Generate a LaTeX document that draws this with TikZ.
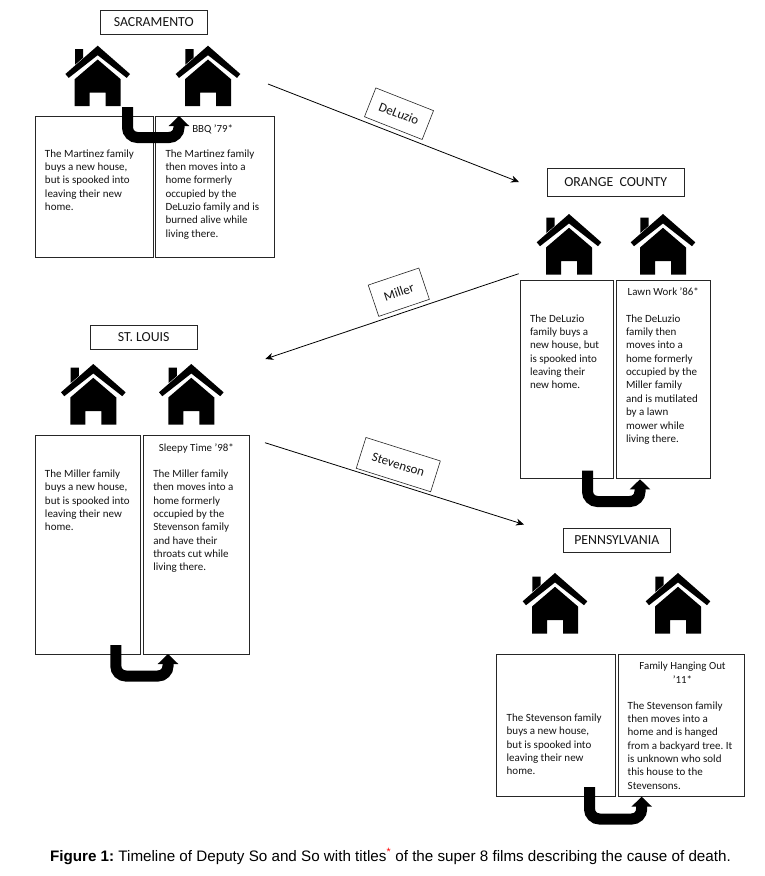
\documentclass[tikz,border=0pt]{standalone}
\usepackage{fontspec}
\setmainfont{Carlito}
\newfontfamily\capfont{Liberation Sans}
\usetikzlibrary{arrows.meta}
\tikzset{
  every node/.style={inner sep=0pt, outer sep=0pt, text=black!92},
  place/.style={draw=black!85, line width=0.9pt, font=\fontsize{13.8}{15}\selectfont, align=center, fill=white},
  panel/.style={draw=black!85, line width=0.9pt, fill=white},
  body/.style={anchor=north west, align=left, font=\fontsize{11}{13.35}\selectfont},
  filmtitle/.style={align=center, font=\fontsize{10.9}{13.35}\selectfont},
  surname/.style={draw=black!85, line width=0.6pt, fill=white, font=\fontsize{13}{14}\selectfont},
  trip/.style={draw=black, line width=0.8pt, -{Stealth[length=8pt,width=7pt]}},
  uarrow/.style={draw=black, line width=11pt, rounded corners=10pt, -{Triangle[length=10pt,width=20pt]}},
  home/.pic={
    \fill[black] (0,0) -- (32.3,28.3) -- (29,32.2) -- (0,9.5) -- (-29,32.2) -- (-32.3,28.3) -- cycle;
    \fill[black] (-22.7,3.5) -- (-14.5,3.5) -- (-14.5,12) -- (-22.7,19) -- cycle;
    \fill[black] (-23,60.5) -- (-23,33.5) -- (0,13.8) -- (23,33.5) -- (23,60.5) -- (8,60.5) -- (8,47) -- (-8,47) -- (-8,60.5) -- cycle;
  }
}
\begin{document}
\frenchspacing
\begin{tikzpicture}[x=1pt,y=-1pt]
\useasboundingbox[fill=white] (0,0) rectangle (764,876);

% Sacramento
\node[place, minimum width=106.7pt, minimum height=24.7pt] (sacLabel) at (153.7,22.3) {SACRAMENTO};
\pic at (97.7,45.7) {home};
\pic at (208,45.7) {home};
\node[panel, minimum width=118pt, minimum height=141pt, anchor=north west] (sacL) at (35.7,116) {};
\node[panel, minimum width=118.3pt, minimum height=141pt, anchor=north west] (sacR) at (155.7,116) {};
\node[body] (sacLT) at (45,149.6) {The Martinez family\\buys a new house,\\but is spooked into\\leaving their new\\home.};
\node[body] (sacRT) at (165.5,149.6) {The Martinez family\\then moves into a\\home formerly\\occupied by the\\DeLuzio family and is\\burned alive while\\living there.};
\node[filmtitle] (sacF) at (212.7,129) {BBQ '79*};
\coordinate (sacA) at (127.5,107);
\coordinate (sacM) at (150,137.5);
\coordinate (sacB) at (179,116);
\draw[uarrow] (sacA) |- (sacM) -| (sacB);

% Orange County
\node[place, minimum width=136.7pt, minimum height=28.4pt] (ocLabel) at (615.7,182.5) {ORANGE\ \ COUNTY};
\pic at (569,214) {home};
\pic at (663,214) {home};
\node[panel, minimum width=93.7pt, minimum height=197.3pt, anchor=north west] (ocL) at (520,280.7) {};
\node[panel, minimum width=94.4pt, minimum height=197.3pt, anchor=north west] (ocR) at (616.3,280.7) {};
\node[body] (ocLT) at (530,314.6) {The DeLuzio\\family buys a\\new house, but\\is spooked into\\leaving their\\new home.};
\node[body] (ocRT) at (626,314.6) {The DeLuzio\\family then\\moves into a\\home formerly\\occupied by the\\Miller family\\and is mutilated\\by a lawn\\mower while\\living there.};
\node[filmtitle] (ocF) at (663.3,292) {Lawn Work '86*};
\coordinate (ocA) at (587.5,470.7);
\coordinate (ocM) at (610,501.5);
\coordinate (ocB) at (640,479.3);
\draw[uarrow] (ocA) |- (ocM) -| (ocB);

% St. Louis
\node[place, minimum width=107.3pt, minimum height=24.3pt] (slLabel) at (143.7,337.2) {ST. LOUIS};
\pic at (93.3,364) {home};
\pic at (191.3,364) {home};
\node[panel, minimum width=105pt, minimum height=218.3pt, anchor=north west] (slL) at (35.3,435.7) {};
\node[panel, minimum width=105.6pt, minimum height=218.3pt, anchor=north west] (slR) at (143.7,435.7) {};
\node[body] (slLT) at (45,469.8) {The Miller family\\buys a new house,\\but is spooked into\\leaving their new\\home.};
\node[body] (slRT) at (153.3,469.8) {The Miller family\\then moves into a\\home formerly\\occupied by the\\Stevenson family\\and have their\\throats cut while\\living there.};
\node[filmtitle] (slF) at (196.3,448.3) {Sleepy Time '98*};
\coordinate (slA) at (115.8,645);
\coordinate (slM) at (140,676);
\coordinate (slB) at (168,654);
\draw[uarrow] (slA) |- (slM) -| (slB);

% Pennsylvania
\node[place, minimum width=107pt, minimum height=24.7pt] (paLabel) at (616.8,540.3) {PENNSYLVANIA};
\pic at (555,573) {home};
\pic at (678,573) {home};
\node[panel, minimum width=118.7pt, minimum height=142.3pt, anchor=north west] (paL) at (496.3,654) {};
\node[panel, minimum width=125.7pt, minimum height=142.3pt, anchor=north west] (paR) at (618.3,654) {};
\node[body] (paLT) at (506.7,713.8) {The Stevenson family\\buys a new house,\\but is spooked into\\leaving their new\\home.};
\node[body] (paRT) at (627.7,701.4) {The Stevenson family\\then moves into a\\home and is hanged\\from a backyard tree. It\\is unknown who sold\\this house to the\\Stevensons.};
\node[filmtitle] (paF) at (682.5,672.7) {Family Hanging Out\\'11*};
\coordinate (paA) at (589.5,787);
\coordinate (paM) at (615,819);
\coordinate (paB) at (641.7,796.7);
\draw[uarrow] (paA) |- (paM) -| (paB);

% Journeys
\coordinate (j1a) at (268,84);
\coordinate (j1b) at (519,182);
\draw[trip] (j1a) -- (j1b);
\node[surname, minimum width=62pt, minimum height=31pt, rotate=-21.5] (deluzio) at (399,113.7) {DeLuzio};

\coordinate (j2a) at (518.7,273.7);
\coordinate (j2b) at (265.3,359);
\draw[trip] (j2a) -- (j2b);
\node[surname, minimum width=53.4pt, minimum height=33pt, rotate=18.6] (miller) at (398.8,292.2) {Miller};

\coordinate (j3a) at (265,442.7);
\coordinate (j3b) at (524,524.5);
\draw[trip] (j3a) -- (j3b);
\node[surname, minimum width=78pt, minimum height=32.3pt, rotate=-17.5] (stevenson) at (398.3,464.6) {Stevenson};

% Caption
\node[anchor=base west, text=black, font=\capfont\fontsize{15.2}{16}\selectfont] (caption) at (50,861) {\textbf{Figure 1:} Timeline of Deputy So and So with titles\textsuperscript{\textcolor{red}{*}} of the super 8 films describing the cause of death.};
\end{tikzpicture}
\end{document}
